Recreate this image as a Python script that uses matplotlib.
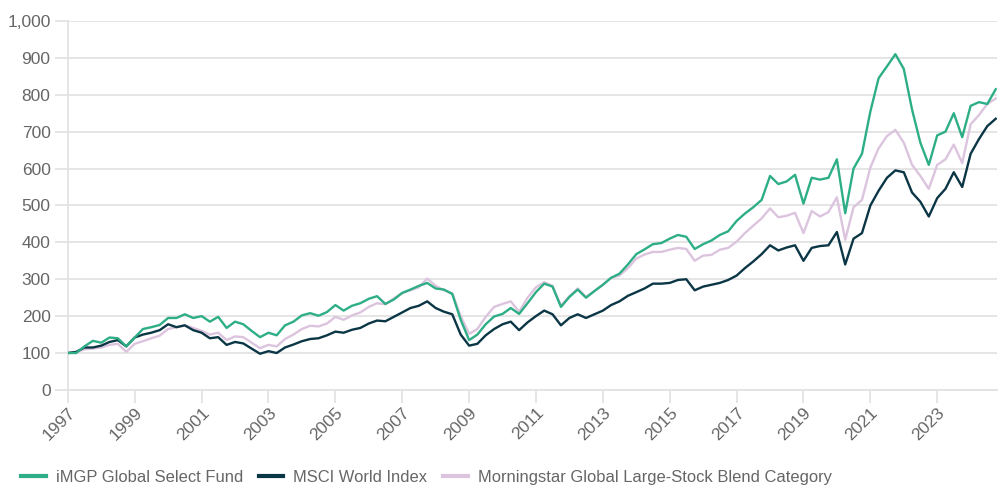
import numpy as np
import pandas as pd
import matplotlib
matplotlib.use("Agg")
import matplotlib.pyplot as plt
import matplotlib.dates as mdates
from matplotlib.ticker import FuncFormatter

plt.rcParams['font.family'] = ['Liberation Sans', 'DejaVu Sans']

# quarterly readings, growth of 100 starting Jan 1997
dates = pd.date_range('1997-01-01', '2024-10-01', freq='QS')

fund = [100, 100, 118, 133, 128, 142, 140, 118, 142, 165, 170, 176,
        195, 195, 205, 195, 200, 185, 198, 168, 185, 178, 160, 143,
        155, 148, 175, 185, 202, 208, 201, 211, 230, 215, 228, 235,
        247, 254, 233, 245, 263, 272, 282, 290, 275, 272, 260, 190,
        135, 150, 178, 199, 206, 222, 206, 235, 265, 288, 280, 225,
        252, 272, 250, 268, 285, 304, 315, 340, 368, 381, 395, 398,
        410, 420, 415, 382, 395, 405, 420, 430, 458, 478, 495, 515,
        580, 558, 565, 583, 505, 575, 570, 575, 625, 479, 600, 640,
        755, 845, 877, 910, 870, 760, 670, 610, 690, 700, 750, 685,
        770, 780, 775, 815]

msci = [100, 103, 115, 115, 120, 130, 135, 118, 142, 150, 155, 162,
        178, 170, 175, 162, 155, 140, 143, 122, 130, 126, 112, 98,
        105, 100, 115, 123, 132, 138, 140, 148, 158, 155, 163, 168,
        180, 188, 186, 198, 210, 222, 228, 240, 222, 212, 205, 150,
        120, 125, 148, 165, 178, 185, 162, 183, 200, 215, 205, 175,
        195, 205, 195, 205, 215, 230, 240, 255, 265, 275, 288, 288,
        290, 298, 300, 270, 280, 285, 290, 298, 310, 330, 348, 368,
        392, 378, 386, 392, 350, 385, 390, 392, 428, 340, 410, 425,
        500, 540, 575, 595, 590, 535, 510, 470, 520, 545, 590, 550,
        640, 680, 715, 735]

category = [100, 102, 110, 112, 115, 122, 125, 103, 125, 132, 140, 147,
            165, 170, 175, 168, 160, 150, 155, 135, 145, 143, 128, 113,
            122, 118, 138, 150, 165, 174, 172, 180, 198, 190, 202, 210,
            225, 235, 232, 248, 262, 270, 278, 302, 282, 270, 262, 200,
            152, 165, 198, 225, 233, 240, 212, 250, 278, 292, 282, 228,
            254, 275, 252, 268, 285, 304, 310, 330, 356, 367, 374, 374,
            380, 385, 382, 350, 364, 366, 380, 385, 402, 425, 445, 465,
            492, 468, 472, 480, 425, 485, 470, 482, 522, 407, 495, 515,
            603, 655, 688, 705, 670, 610, 580, 545, 610, 625, 665, 615,
            720, 745, 775, 790]

tick_years = list(range(1997, 2024, 2))

series_names = ['iMGP Global Select Fund', 'MSCI World Index',
                'Morningstar Global Large-Stock Blend Category']
series_colors = ['#2eae86', '#0b3645', '#dcc4de']

grid_color = '#e3e3e3'
text_color = '#666666'

fig = plt.figure(figsize=(9.98, 4.88), dpi=100)
ax = fig.add_axes([0.068, 0.201, 0.931, 0.756])

# category first so it sits underneath
ax.plot(dates, category, color=series_colors[2], linewidth=1.7, zorder=3)
ax.plot(dates, msci, color=series_colors[1], linewidth=1.7, zorder=4)
ax.plot(dates, fund, color=series_colors[0], linewidth=1.7, zorder=5)

ax.set_ylim(0, 1000)
ax.set_yticks(np.arange(0, 1001, 100))
ax.yaxis.set_major_formatter(FuncFormatter(lambda v, p: f'{int(v):,}'))
ax.grid(axis='y', color=grid_color, linewidth=1.3)
ax.set_axisbelow(True)

ax.set_xlim(dates[0], pd.Timestamp('2024-10-15'))
ax.set_xticks([pd.Timestamp(f'{y}-01-01') for y in tick_years])
ax.xaxis.set_major_formatter(mdates.DateFormatter('%Y'))

for s in ['top', 'right']:
    ax.spines[s].set_visible(False)
for s in ['left', 'bottom']:
    ax.spines[s].set_color(grid_color)
    ax.spines[s].set_linewidth(1.3)

ax.tick_params(axis='y', length=9.5, width=1.3, color=grid_color,
               labelcolor=text_color, labelsize=12.5, pad=3)
ax.tick_params(axis='x', length=9, width=1.3, color=grid_color,
               labelcolor=text_color, labelsize=12.5, pad=2)
for lbl in ax.get_xticklabels():
    lbl.set_rotation(45)
    lbl.set_ha('right')
    lbl.set_rotation_mode('anchor')

handles = [plt.Line2D([], [], color=c, linewidth=3) for c in series_colors]
fig.legend(handles, series_names, loc='lower left', bbox_to_anchor=(0.006, -0.024),
           ncol=3, frameon=False, fontsize=11.9, labelcolor=text_color,
           handlelength=1.5, handletextpad=0.6, columnspacing=0.95)

fig.savefig('out.png', dpi=100)
